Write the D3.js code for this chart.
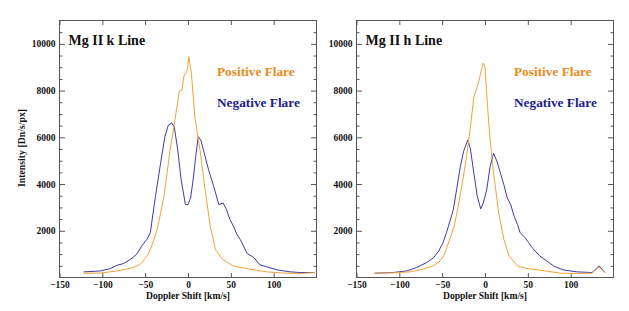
<!DOCTYPE html>
<html lang="en">
<head>
    <meta charset="utf-8">
    <style type="text/css">
        body { margin: 0; background: #fff; }
        text { font-family: "Liberation Serif", "Times New Roman", serif; font-weight: bold; }
        .line { fill: none; stroke-width: 1px; stroke-linejoin: round; }
        .axis path { display: none; }
        .axis line { stroke: #555; }
        .axis text { font-size: 9.5px; fill: #111; font-family: "Liberation Serif", serif; }
    </style>
</head>
<body>
<svg width="629" height="311"></svg>

<script src="https://d3js.org/d3.v7.min.js"></script>
<script type="text/javascript">
    // Mg II k line
    var kPosX = [-122,-102,-83,-64,-56,-48,-44,-40,-36,-32,-28,-25,-21,-17,-13,-10,-7,-5,-1,1,4,8,14,20,26,32,40,53,73,92,112,131,148];
    var kPosY = [180,190,280,420,560,900,1200,1600,2050,2750,3500,4300,5450,6300,7300,8000,8020,8580,8860,9450,8720,6880,5460,3760,2200,1200,780,490,350,240,190,170,210];
    var kNegX = [-122,-102,-91,-83,-75,-67,-60,-54,-48,-44,-38,-32,-27,-23,-19,-16,-12,-8,-3,0,3,6,9,12,15,18,24,30,36,41,45,49,53,57,61,69,77,84,92,104,119,131,148];
    var kNegY = [240,280,380,520,600,780,990,1350,1630,1915,3470,4890,6025,6520,6620,6450,5460,4180,3120,3120,3400,4180,5180,6025,5880,5460,4610,3900,3120,3190,2900,2480,2200,1850,1630,1030,850,540,455,327,242,213,213];

    // Mg II h line
    var hPosX = [-129,-107,-88,-72,-60,-52,-48,-44,-40,-36,-32,-28,-24,-21,-17,-13,-10,-7,-4,-2,0,3,6,10,16,22,28,38,49,70,88,107,125,133,140];
    var hPosY = [185,200,240,355,500,720,950,1345,1750,2200,2900,3700,4600,5320,6450,7730,8050,8440,8900,9180,9000,7300,5885,4470,2770,1630,920,494,383,284,185,170,185,455,213];
    var hNegX = [-129,-107,-91,-80,-68,-60,-54,-49,-45,-41,-37,-33,-29,-25,-20,-17,-13,-9,-5,-2,2,6,10,14,18,22,26,30,34,38,41,47,51,56,64,72,80,91,107,125,133,140];
    var hNegY = [185,213,284,426,640,850,1135,1490,1915,2400,2900,3800,4700,5400,5885,5500,4468,3472,2936,3190,3757,4750,5319,4964,4468,3971,3404,3120,2621,2269,1915,1702,1489,1234,920,710,494,327,242,213,497,213];

    var xTicks = [-150, -100, -50, 0, 50, 100];
    var yTicks = [2000, 4000, 6000, 8000, 10000];
    var seriesNames = ["Positive Flare", "Negative Flare"];
    var panelTitles = ["Mg II k Line", "Mg II h Line"];

    var posColor = "#f2a238", negColor = "#3c3ca4";
    var posText = "#e88c1c", negText = "#1c1c8c";

    var svg = d3.select("svg");
    svg.append("rect").attr("width", 629).attr("height", 311).attr("fill", "#fff");

    var panels = [
        {left: 59.5, title: panelTitles[0], pos: [kPosX, kPosY], neg: [kNegX, kNegY], yTitle: true},
        {left: 356.5, title: panelTitles[1], pos: [hPosX, hPosY], neg: [hNegX, hNegY], yTitle: false}
    ];
    var plotTop = 20.5, pw = 257, ph = 257;

    function zip(a) {
        return a[0].map(function (x, i) { return [x, a[1][i]]; });
    }

    var minorY = d3.range(500, 11000, 500).filter(function (v) { return v % 2000 !== 0; });

    panels.forEach(function (p) {
        var g = svg.append("g").attr("transform", "translate(" + p.left + "," + plotTop + ")");
        var x = d3.scaleLinear().domain([-150, 150]).range([0, pw]);
        var y = d3.scaleLinear().domain([0, 11000]).range([ph, 0]);

        g.append("g").attr("class", "axis").attr("transform", "translate(0," + ph + ")")
            .call(d3.axisBottom(x).tickValues(xTicks).tickSizeInner(-4.5).tickSizeOuter(0).tickPadding(4).tickFormat(d3.format("d")));
        g.append("g").attr("class", "axis")
            .call(d3.axisTop(x).tickValues(xTicks).tickSizeInner(-4.5).tickSizeOuter(0).tickFormat(""));
        g.append("g").attr("class", "axis")
            .call(d3.axisLeft(y).tickValues(yTicks).tickSizeInner(-5.5).tickSizeOuter(0).tickPadding(4).tickFormat(d3.format("d")));
        g.append("g").attr("class", "axis")
            .call(d3.axisLeft(y).tickValues(minorY).tickSizeInner(-3).tickSizeOuter(0).tickFormat(""));
        g.append("g").attr("class", "axis").attr("transform", "translate(" + pw + ",0)")
            .call(d3.axisRight(y).tickValues(yTicks).tickSizeInner(-5.5).tickSizeOuter(0).tickFormat(""));
        g.append("g").attr("class", "axis").attr("transform", "translate(" + pw + ",0)")
            .call(d3.axisRight(y).tickValues(minorY).tickSizeInner(-3).tickSizeOuter(0).tickFormat(""));

        g.append("rect").attr("width", pw).attr("height", ph)
            .attr("fill", "none").attr("stroke", "#555").attr("stroke-width", 1);

        var line = d3.line().x(function (d) { return x(d[0]); }).y(function (d) { return y(d[1]); });

        g.append("path").datum(zip(p.neg)).attr("class", "line").attr("stroke", negColor).attr("d", line);
        g.append("path").datum(zip(p.pos)).attr("class", "line").attr("stroke", posColor).attr("d", line);

        g.append("text").attr("x", 9).attr("y", 24.5).attr("font-size", 14).attr("fill", "#111").text(p.title);
        g.append("text").attr("x", 157.5).attr("y", 55.5).attr("font-size", 13.3).attr("fill", posText).text(seriesNames[0]);
        g.append("text").attr("x", 157.5).attr("y", 86).attr("font-size", 13.3).attr("fill", negText).text(seriesNames[1]);

        g.append("text").attr("x", pw / 2).attr("y", ph + 21.5).attr("text-anchor", "middle")
            .attr("font-size", 9.6).attr("fill", "#111").text("Doppler Shift [km/s]");

        if (p.yTitle) {
            g.append("text").attr("transform", "translate(" + (-35) + "," + (ph / 2 - 1) + ") rotate(-90)")
                .attr("text-anchor", "middle").attr("font-size", 9.8).attr("fill", "#111")
                .text("Intensity [Dn/s/px]");
        }
    });
</script>
</body>
</html>
